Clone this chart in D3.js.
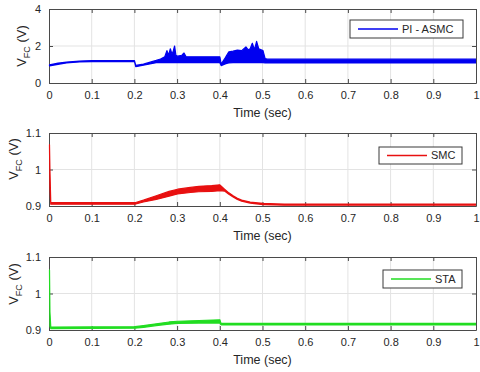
<!DOCTYPE html>
<html>
<head>
<meta charset="utf-8">
<script src="https://cdn.jsdelivr.net/npm/d3@7"></script>
<style>
body { margin: 0; background: #fff; }
text { font-family: "Liberation Sans", Arial, sans-serif; fill: #262626; }
</style>
</head>
<body>
<div id="chart"></div>
<script>
// time axis ticks
var xTicks = [0, 0.1, 0.2, 0.3, 0.4, 0.5, 0.6, 0.7, 0.8, 0.9, 1];

// PI - ASMC (envelope of the fast oscillation)
var asmcT  = [0, 0.02, 0.04, 0.07, 0.1, 0.199, 0.202, 0.22, 0.25, 0.26, 0.27, 0.275, 0.279, 0.283, 0.287, 0.29, 0.293, 0.296, 0.3, 0.31, 0.315, 0.32, 0.35, 0.399, 0.402, 0.41, 0.415, 0.42, 0.43, 0.44, 0.45, 0.46, 0.465, 0.47, 0.475, 0.48, 0.485, 0.49, 0.5, 0.505, 0.51, 0.6, 0.8, 1.0];
var asmcHi = [0.98, 1.07, 1.13, 1.19, 1.21, 1.21, 0.95, 1.02, 1.22, 1.3, 1.42, 1.75, 1.5, 1.85, 1.55, 1.75, 2.0, 1.5, 1.45, 1.5, 1.62, 1.42, 1.42, 1.42, 1.02, 1.3, 1.5, 1.68, 1.72, 1.78, 1.75, 1.95, 1.8, 1.85, 2.15, 1.8, 2.25, 1.85, 1.75, 1.32, 1.29, 1.29, 1.29, 1.29];
var asmcLo = [0.92, 1.01, 1.08, 1.14, 1.16, 1.16, 0.88, 0.96, 1.1, 1.1, 1.1, 1.1, 1.1, 1.1, 1.1, 1.1, 1.1, 1.1, 1.1, 1.1, 1.1, 1.1, 1.1, 1.1, 0.94, 1.02, 1.06, 1.08, 1.1, 1.1, 1.1, 1.1, 1.1, 1.1, 1.1, 1.1, 1.1, 1.1, 1.1, 1.08, 1.08, 1.08, 1.08, 1.08];

// SMC
var smcT  = [0, 0.001, 0.003, 0.2, 0.22, 0.25, 0.28, 0.3, 0.33, 0.35, 0.38, 0.399, 0.41, 0.42, 0.43, 0.44, 0.45, 0.47, 0.5, 0.55, 1.0];
var smcHi = [1.068, 1.0, 0.909, 0.909, 0.916, 0.928, 0.94, 0.946, 0.951, 0.954, 0.956, 0.958, 0.946, 0.936, 0.928, 0.921, 0.916, 0.911, 0.907, 0.905, 0.905];
var smcLo = [1.062, 0.95, 0.905, 0.905, 0.911, 0.918, 0.927, 0.933, 0.937, 0.939, 0.94, 0.942, 0.941, 0.932, 0.925, 0.918, 0.913, 0.908, 0.904, 0.902, 0.902];

// STA
var staT  = [0, 0.001, 0.003, 0.2, 0.22, 0.25, 0.28, 0.3, 0.35, 0.399, 0.401, 0.403, 1.0];
var staHi = [1.065, 0.95, 0.908, 0.909, 0.912, 0.917, 0.922, 0.924, 0.926, 0.928, 0.92, 0.918, 0.918];
var staLo = [1.06, 0.91, 0.904, 0.905, 0.907, 0.912, 0.916, 0.918, 0.919, 0.919, 0.915, 0.914, 0.914];

var panels = [
	{name: "PI - ASMC", color: "#0000f0", t: asmcT, hi: asmcHi, lo: asmcLo,
	 top: 9, bottom: 83, yDomain: [0, 4], yTicks: [0, 2, 4], fmt: d3.format("d"),
	 legend: {x: 350, y: 20, w: 113, h: 18}, ylabX: 21, ylabY: 46},
	{name: "SMC", color: "#e81010", t: smcT, hi: smcHi, lo: smcLo,
	 top: 133, bottom: 206, yDomain: [0.9, 1.1], yTicks: [0.9, 1, 1.1], fmt: function(d){ return d == 1 ? "1" : d3.format(".1f")(d); },
	 legend: {x: 379, y: 147, w: 83, h: 17}, ylabX: 13, ylabY: 159},
	{name: "STA", color: "#22dd22", t: staT, hi: staHi, lo: staLo,
	 top: 257, bottom: 330, yDomain: [0.9, 1.1], yTicks: [0.9, 1, 1.1], fmt: function(d){ return d == 1 ? "1" : d3.format(".1f")(d); },
	 legend: {x: 383, y: 270, w: 79, h: 18}, ylabX: 13, ylabY: 284}
];

var left = 49, right = 476;
var svg = d3.select("#chart").append("svg")
	.attr("width", 480)
	.attr("height", 372);

var x = d3.scaleLinear().domain([0, 1]).range([left, right]);

panels.forEach(function(p){
	var y = d3.scaleLinear().domain(p.yDomain).range([p.bottom, p.top]);
	var g = svg.append("g");

	// grid
	g.selectAll(".vgrid").data(xTicks.slice(1, -1)).enter().append("line")
		.attr("x1", function(d){ return x(d); }).attr("x2", function(d){ return x(d); })
		.attr("y1", p.top).attr("y2", p.bottom)
		.attr("stroke", "#e3e3e3").attr("stroke-width", 1);
	g.selectAll(".hgrid").data(p.yTicks.slice(1, -1)).enter().append("line")
		.attr("y1", function(d){ return y(d); }).attr("y2", function(d){ return y(d); })
		.attr("x1", left).attr("x2", right)
		.attr("stroke", "#e3e3e3").attr("stroke-width", 1);

	// axes (MATLAB style box with inward ticks)
	g.append("g")
		.attr("transform", "translate(0," + p.bottom + ")")
		.call(d3.axisBottom(x).tickValues(xTicks).tickSizeInner(-4).tickSizeOuter(0).tickPadding(8)
			.tickFormat(function(d){ return d3.format("")(+d.toFixed(1)); }))
		.call(styleAxis);
	g.append("g")
		.attr("transform", "translate(0," + p.top + ")")
		.call(d3.axisTop(x).tickValues(xTicks).tickSizeInner(-4).tickSizeOuter(0).tickFormat(""))
		.call(styleAxis);
	g.append("g")
		.attr("transform", "translate(" + left + ",0)")
		.call(d3.axisLeft(y).tickValues(p.yTicks).tickSizeInner(-4).tickSizeOuter(0).tickPadding(8).tickFormat(p.fmt))
		.call(styleAxis);
	g.append("g")
		.attr("transform", "translate(" + right + ",0)")
		.call(d3.axisRight(y).tickValues(p.yTicks).tickSizeInner(-4).tickSizeOuter(0).tickFormat(""))
		.call(styleAxis);

	// data band, drawn over the box so the t=0 transient shows
	var data = p.t.map(function(t, i){ return {t: t, hi: p.hi[i], lo: p.lo[i]}; });
	var clipId = "clip" + p.name.replace(/\W/g, "");
	svg.append("clipPath").attr("id", clipId).append("rect")
		.attr("x", left - 1).attr("y", p.top).attr("width", right - left + 1).attr("height", p.bottom - p.top);
	g.append("path")
		.datum(data)
		.attr("clip-path", "url(#" + clipId + ")")
		.attr("fill", p.color)
		.attr("stroke", p.color)
		.attr("stroke-width", 1.2)
		.attr("stroke-linejoin", "round")
		.attr("d", d3.area()
			.x(function(d){ return x(d.t) + 0.5; })
			.y0(function(d){ return y(d.lo); })
			.y1(function(d){ return y(d.hi); }));

	// x label
	g.append("text")
		.attr("x", (left + right) / 2)
		.attr("y", p.bottom + 34)
		.attr("text-anchor", "middle")
		.style("font-size", "12.5px")
		.text("Time (sec)");

	// y label
	var yl = g.append("text")
		.attr("transform", "translate(" + p.ylabX + "," + p.ylabY + ") rotate(-90)")
		.attr("text-anchor", "middle")
		.attr("dy", "0.35em")
		.style("font-size", "13px");
	yl.append("tspan").text("V");
	yl.append("tspan").attr("dy", "4").style("font-size", "9px").text("FC");
	yl.append("tspan").attr("dy", "-4").text(" (V)");

	// legend
	var lg = g.append("g").attr("transform", "translate(" + p.legend.x + "," + p.legend.y + ")");
	lg.append("rect")
		.attr("width", p.legend.w).attr("height", p.legend.h)
		.attr("fill", "#fff").attr("stroke", "#3a3a3a").attr("stroke-width", 1);
	lg.append("line")
		.attr("x1", 8).attr("x2", 48)
		.attr("y1", p.legend.h / 2).attr("y2", p.legend.h / 2)
		.attr("stroke", p.color).attr("stroke-width", 1.5);
	lg.append("text")
		.attr("x", 52).attr("y", p.legend.h / 2)
		.attr("dy", "0.35em")
		.style("font-size", "11px")
		.text(p.name);
});

function styleAxis(sel){
	sel.select(".domain").attr("stroke", "#4a4a4a").attr("stroke-width", 1);
	sel.selectAll(".tick line").attr("stroke", "#4a4a4a");
	sel.selectAll(".tick text")
		.style("font-size", "11px")
		.style("font-family", "'Liberation Sans', Arial, sans-serif")
		.attr("fill", "#262626");
}
</script>
</body>
</html>
